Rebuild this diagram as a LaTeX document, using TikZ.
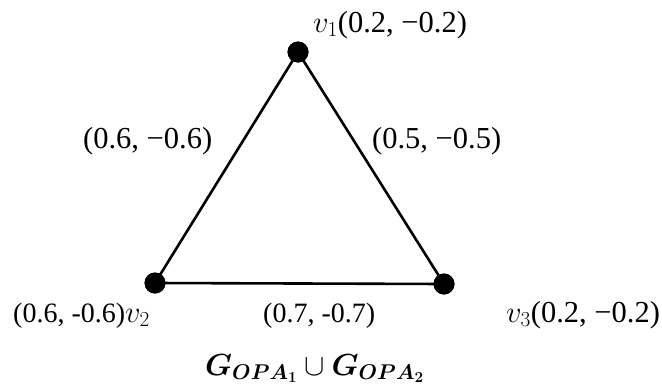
\documentclass[tikz,border=0pt]{standalone}
\usepackage{fix-cm}
\usepackage{amsmath}
\usepackage{bm}
\usepackage{fontspec}
\setmainfont{Liberation Serif}
\begin{document}
\begin{tikzpicture}[x=1pt,y=-1pt,
  vtx/.style={circle,fill=black,inner sep=0pt,minimum size=21pt},
  edge/.style={line width=2.6pt},
  lbl/.style={anchor=base west,inner sep=0pt,font=\fontsize{28}{34}\selectfont},
  mlbl/.style={anchor=base west,inner sep=0pt,font=\fontsize{30.5}{36}\selectfont}]
\useasboundingbox (0,0) rectangle (662,389);
\node[vtx] (v1) at (298,52) {};
\node[vtx] (v2) at (155,283) {};
\node[vtx] (v3) at (444,284) {};
\draw[edge] (v1.center) -- (v2.center) -- (v3.center) -- cycle;
\node[vtx] at (298,52) {};
\node[vtx] at (155,283) {};
\node[vtx] at (444,284) {};
\node[mlbl] (l1) at (313,32) {$v_1$(0.2, −0.2)};
\node[mlbl] (e12) at (83,148) {(0.6, −0.6)};
\node[mlbl] (e13) at (372,148) {(0.5, −0.5)};
\node[lbl] (l2) at (13,322) {(0.6, -0.6)\fontsize{30.5}{36}\selectfont$v_2$};
\node[lbl] (e23) at (263,322) {(0.7, -0.7)};
\node[mlbl] (l3) at (506,322) {$v_3$(0.2, −0.2)};
\node[mlbl] (ttl) at (205,375) {$\bm{G}_{\bm{OPA}_{\bm{1}}}\cup\bm{G}_{\bm{OPA}_{\bm{2}}}$};
\end{tikzpicture}
\end{document}
